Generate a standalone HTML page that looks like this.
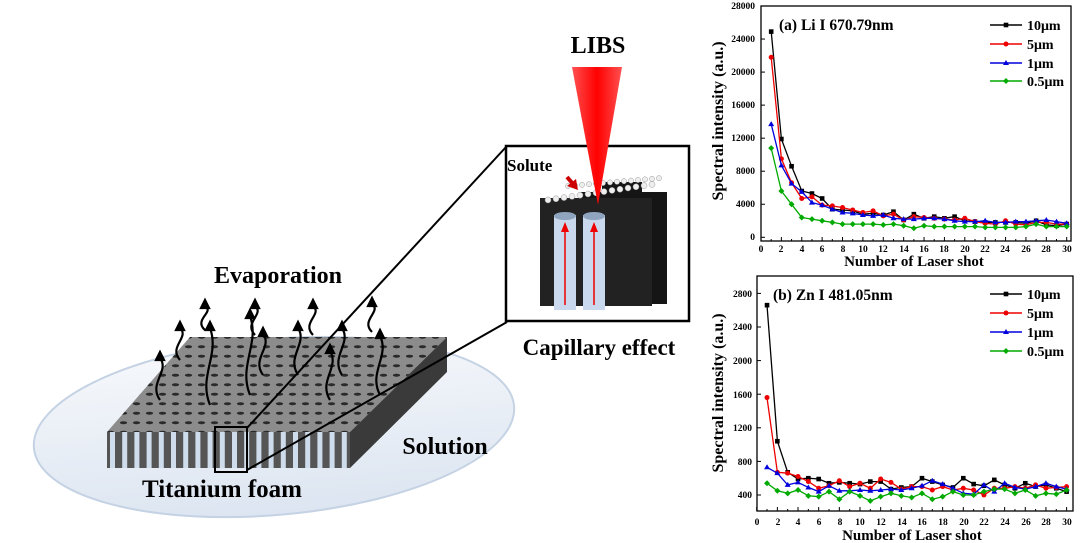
<!DOCTYPE html>
<html><head><meta charset="utf-8"><style>
html,body{margin:0;padding:0;background:#fff;width:1080px;height:543px;overflow:hidden}
svg{display:block}
text{font-family:"Liberation Serif",serif;font-weight:bold;fill:#000}
</style></head><body>
<svg id="s" width="1080" height="543" viewBox="0 0 1080 543" xmlns="http://www.w3.org/2000/svg">
<defs>
<linearGradient id="plate" x1="0" y1="0" x2="0" y2="1"><stop offset="0" stop-color="#f6f8fb"/><stop offset="1" stop-color="#dce5f1"/></linearGradient>
<linearGradient id="beam" x1="0" y1="0" x2="1" y2="0"><stop offset="0" stop-color="#ff5050"/><stop offset="0.5" stop-color="#ff0000"/><stop offset="1" stop-color="#ff5050"/></linearGradient>
<pattern id="holes" width="13" height="9.5" patternUnits="userSpaceOnUse"><rect width="13" height="9.5" fill="#8c8c8c"/><ellipse cx="6.5" cy="4.7" rx="3.6" ry="1.5" fill="#2a2a2a"/></pattern>
</defs>
<!-- plate -->
<ellipse cx="274" cy="427" rx="241" ry="88" transform="rotate(-5 274 427)" fill="url(#plate)" stroke="#c4d2e4" stroke-width="2"/>
<!-- foam -->
<polygon points="190,337 447,337 350,432 107,432" fill="url(#holes)"/>
<polygon points="350,432 447,337 447,372 350,468" fill="#3a3a3a"/>
<g id="front"></g>
<rect x="215" y="427" width="32" height="45" fill="none" stroke="#000" stroke-width="2"/>
<line x1="247" y1="428" x2="506" y2="147" stroke="#000" stroke-width="2"/>
<line x1="247" y1="470" x2="507" y2="322" stroke="#000" stroke-width="2"/>
<g id="arrows" fill="none" stroke="#000" stroke-width="2.2"></g>
<text x="278" y="283" font-size="24" text-anchor="middle">Evaporation</text>
<text x="222" y="497" font-size="25" text-anchor="middle">Titanium foam</text>
<text x="445" y="454" font-size="24" text-anchor="middle">Solution</text>
<!-- inset -->
<rect x="506" y="146" width="183" height="175" fill="#fff" stroke="#000" stroke-width="2.5"/>
<g id="cols"></g>
<polygon points="572,67 622,67 598,205" fill="url(#beam)"/>
<text x="598" y="53" font-size="24" text-anchor="middle">LIBS</text>
<text x="507" y="171" font-size="17">Solute</text>
<line x1="567" y1="177" x2="573" y2="184" stroke="#c00" stroke-width="4"/>
<polygon points="567,186 578,190 576,179" fill="#c00"/>
<text x="599" y="355" font-size="23" text-anchor="middle">Capillary effect</text>
<!-- chart a -->
<g id="ca"></g>
<text x="779" y="30" font-size="15.5">(a) Li I 670.79nm</text>
<text x="914" y="266" font-size="15" text-anchor="middle">Number of Laser shot</text>
<text transform="translate(723,121) rotate(-90)" font-size="16" text-anchor="middle">Spectral intensity (a.u.)</text>
<g font-size="14">
<text x="1027" y="30">10μm</text><text x="1027" y="49">5μm</text><text x="1027" y="68">1μm</text><text x="1027" y="86">0.5μm</text>
</g>
<g font-size="9.5" text-anchor="end">
<text x="755" y="240">0</text><text x="755" y="207">4000</text><text x="755" y="174">8000</text><text x="755" y="141">12000</text><text x="755" y="108">16000</text><text x="755" y="75">20000</text><text x="755" y="42">24000</text><text x="755" y="9">28000</text>
</g>
<g font-size="9.5" text-anchor="middle">
<text x="761" y="252">0</text><text x="781" y="252">2</text><text x="802" y="252">4</text><text x="822" y="252">6</text><text x="843" y="252">8</text><text x="863" y="252">10</text><text x="883" y="252">12</text><text x="904" y="252">14</text><text x="924" y="252">16</text><text x="944" y="252">18</text><text x="965" y="252">20</text><text x="985" y="252">22</text><text x="1005" y="252">24</text><text x="1026" y="252">26</text><text x="1046" y="252">28</text><text x="1067" y="252">30</text>
</g>
<!-- chart b -->
<g id="cb"></g>
<text x="773" y="300" font-size="15.5">(b) Zn I 481.05nm</text>
<text x="912" y="540" font-size="15" text-anchor="middle">Number of Laser shot</text>
<text transform="translate(723,393) rotate(-90)" font-size="16" text-anchor="middle">Spectral intensity (a.u.)</text>
<g font-size="14">
<text x="1027" y="299">10μm</text><text x="1027" y="318">5μm</text><text x="1027" y="337">1μm</text><text x="1027" y="356">0.5μm</text>
</g>
<g font-size="9.5" text-anchor="end">
<text x="752" y="498">400</text><text x="752" y="465">800</text><text x="752" y="431">1200</text><text x="752" y="398">1600</text><text x="752" y="364">2000</text><text x="752" y="330">2400</text><text x="752" y="297">2800</text>
</g>
<g font-size="9.5" text-anchor="middle">
<text x="757" y="525">0</text><text x="778" y="525">2</text><text x="798" y="525">4</text><text x="819" y="525">6</text><text x="840" y="525">8</text><text x="860" y="525">10</text><text x="881" y="525">12</text><text x="902" y="525">14</text><text x="922" y="525">16</text><text x="943" y="525">18</text><text x="964" y="525">20</text><text x="984" y="525">22</text><text x="1005" y="525">24</text><text x="1026" y="525">26</text><text x="1046" y="525">28</text><text x="1067" y="525">30</text>
</g>
</svg>
<script>
var NS="http://www.w3.org/2000/svg";
function el(p,t,a){var e=document.createElementNS(NS,t);for(var k in a)e.setAttribute(k,a[k]);p.appendChild(e);return e;}
var f=document.getElementById('front');
el(f,'rect',{x:107,y:432,width:243,height:36,fill:'#555'});
for(var x=110;x<345;x+=12.2){el(f,'rect',{x:x,y:432,width:5,height:36,fill:'#cfdcec'});}
var ar=document.getElementById('arrows');
var ap=[[160,400,352],[210,405,322],[250,395,310],[180,360,322],[263,375,328],[298,375,322],[342,375,322],[205,330,300],[255,335,300],[313,335,300],[372,332,298],[330,400,345],[380,395,330]];
ap.forEach(function(a){var x=a[0],y0=a[1],y1=a[2],h=y0-y1;
el(ar,'path',{d:'M'+x+','+y0+' C'+(x-12)+','+(y0-h*0.35)+' '+(x+10)+','+(y0-h*0.6)+' '+x+','+(y1+6)});
el(ar,'path',{d:'M'+(x-4)+','+(y1+8)+' L'+x+','+y1+' L'+(x+4)+','+(y1+8)+'z',fill:'#000'});});
var c=document.getElementById('cols');
[[620,182],[598,192],[645,192]].forEach(function(p){el(c,'rect',{x:p[0]-18,y:p[1],width:40,height:112,fill:'#151515'});});
el(c,'rect',{x:540,y:198,width:112,height:108,fill:'#222'});
el(c,'rect',{x:554,y:215,width:22,height:95,fill:'#c9d8ec'});
el(c,'rect',{x:583,y:215,width:22,height:95,fill:'#c9d8ec'});
el(c,'ellipse',{cx:565,cy:216,rx:11,ry:4,fill:'#8ea4bf'});
el(c,'ellipse',{cx:594,cy:216,rx:11,ry:4,fill:'#8ea4bf'});
for(var i=0;i<14;i++){el(c,'circle',{cx:548+i*8,cy:200-i*1.2,r:3,fill:'#eee',stroke:'#999','stroke-width':0.5});el(c,'circle',{cx:568+i*7,cy:186-i*0.6,r:2.6,fill:'#eee',stroke:'#999','stroke-width':0.5});}
[565,594].forEach(function(x){el(c,'line',{x1:x,y1:305,x2:x,y2:228,stroke:'#e00',"stroke-width":1.5});el(c,'path',{d:'M'+(x-4)+',232 L'+x+',222 L'+(x+4)+',232z',fill:'#e00'});});
var cols=['#000','#e00','#00d','#0a0'];
function chart(id,box,xf,yf,data,leg,ticksY){
 var g=document.getElementById(id);
 el(g,'rect',{x:box[0],y:box[1],width:box[2]-box[0],height:box[3]-box[1],fill:'none',stroke:'#000','stroke-width':1.3});
 for(var i=0;i<=30;i++){var x=xf(i);el(g,'line',{x1:x,y1:box[3],x2:x,y2:box[3]-(i%2?2:4),stroke:'#000'});}
 ticksY.forEach(function(v){var y=yf(v);el(g,'line',{x1:box[0],y1:y,x2:box[0]+4,y2:y,stroke:'#000'});});
 data.forEach(function(d,k){var pts=d.map(function(v,i){return xf(i+1).toFixed(1)+','+yf(v).toFixed(1);});
  el(g,'polyline',{points:pts.join(' '),fill:'none',stroke:cols[k],'stroke-width':1.3});
  d.forEach(function(v,i){mk(g,k,xf(i+1),yf(v));});
  el(g,'line',{x1:990,y1:leg[k],x2:1022,y2:leg[k],stroke:cols[k],'stroke-width':1.5});mk(g,k,1006,leg[k]);});
}
function mk(g,k,x,y){var col=cols[k];
 if(k==0)el(g,'rect',{x:x-2.3,y:y-2.3,width:4.6,height:4.6,fill:col});
 else if(k==1)el(g,'circle',{cx:x,cy:y,r:2.5,fill:col});
 else if(k==2)el(g,'path',{d:'M'+x+','+(y-3)+' L'+(x+3)+','+(y+2)+' L'+(x-3)+','+(y+2)+'z',fill:col});
 else el(g,'path',{d:'M'+x+','+(y-3)+' L'+(x+3)+','+y+' L'+x+','+(y+3)+' L'+(x-3)+','+y+'z',fill:col});}
var A=[[24900,11900,8600,5600,5300,4700,3400,3300,3200,2800,2900,2700,3100,2100,2800,2300,2500,2300,2500,2000,1900,1800,1800,1800,1800,1700,2000,1500,1400,1600],
[21800,9500,6600,4700,4900,3900,3800,3600,3300,3000,3200,2600,2800,2100,2500,2400,2300,2200,2100,2300,1900,1700,1600,2000,1600,1500,1800,1800,1600,1600],
[13700,8700,6500,5500,4200,3900,3400,3000,2900,2700,2600,2700,2300,2200,2200,2300,2300,2200,2000,1900,1900,2000,1800,1800,1900,1900,2000,2100,1900,1700],
[10800,5600,4000,2400,2200,2000,1800,1600,1600,1600,1600,1500,1600,1400,1100,1400,1300,1300,1300,1300,1300,1200,1200,1200,1200,1300,1600,1300,1300,1300]];
var B=[[2660,1040,670,590,600,590,540,550,540,530,560,560,470,490,500,600,560,520,490,600,530,510,580,520,480,540,500,520,480,440],
[1560,670,660,620,560,480,510,570,500,540,480,590,550,470,500,500,460,500,460,480,460,400,480,480,500,480,520,480,490,500],
[730,660,520,550,490,440,510,450,450,460,450,460,470,460,480,510,570,530,480,420,410,520,440,540,490,470,500,540,500,470],
[540,450,420,460,390,380,440,350,440,390,330,380,420,390,370,420,350,380,440,400,400,440,470,470,420,460,390,420,410,460]];
chart('ca',[761,6,1071,241],function(v){return 761+v*10.19;},function(v){return 237.3-v*231.3/28000;},A,[25,44,63,81],[0,4000,8000,12000,16000,20000,24000,28000]);
chart('cb',[757,276,1073,511],function(v){return 756.7+v*10.33;},function(v){return 495-(v-400)*33.6/400;},B,[294,313,332,351],[400,800,1200,1600,2000,2400,2800]);
</script>
</body></html>
